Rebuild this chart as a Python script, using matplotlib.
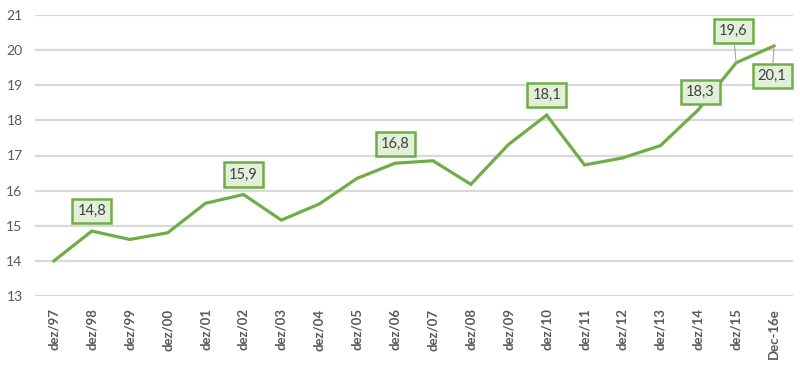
import matplotlib
matplotlib.use("Agg")
import matplotlib.pyplot as plt

plt.rcParams['font.family'] = ['Lato', 'DejaVu Sans']

labels = ["dez/97", "dez/98", "dez/99", "dez/00", "dez/01", "dez/02", "dez/03",
          "dez/04", "dez/05", "dez/06", "dez/07", "dez/08", "dez/09", "dez/10",
          "dez/11", "dez/12", "dez/13", "dez/14", "dez/15", "Dec-16e"]
values = [14.0, 14.85, 14.61, 14.8, 15.64, 15.89, 15.16, 15.62, 16.35, 16.78,
          16.85, 16.18, 17.32, 18.15, 16.73, 16.93, 17.28, 18.3, 19.64, 20.12]

# which points get a boxed label, text, and offset (pixels) of the box
marked = [1, 5, 9, 13, 17, 18, 19]
marked_text = ["14,8", "15,9", "16,8", "18,1", "18,3", "19,6", "20,1"]
offsets = [(0, 20), (0, 20), (0, 19), (0, 20), (2, 18), (-3, 32), (-2, -30)]

green = "#70AD47"

fig = plt.figure(figsize=(8, 3.73), dpi=100)
ax = fig.add_axes([35/800, 1 - 296/373, 758/800, 281/373])

x = list(range(len(values)))
ax.plot(x, values, color=green, lw=2.3, solid_joinstyle='miter', zorder=3)

ax.set_ylim(13, 21)
ax.set_xlim(-0.5, len(values) - 0.5)
ax.set_yticks(range(13, 22))
ax.yaxis.grid(True, color="#D9D9D9", lw=1.6)
ax.set_axisbelow(True)
for s in ax.spines.values():
    s.set_visible(False)
ax.tick_params(length=0)
ax.tick_params(axis='y', labelsize=10, labelcolor="#595959", pad=9)
ax.set_xticks(x)
ax.set_xticklabels(labels, rotation=90, fontsize=9.5, fontweight='bold', color="#595959")
ax.tick_params(axis='x', pad=9)

for i, t, off in zip(marked, marked_text, offsets):
    leader = abs(off[1]) > 25
    ax.annotate(t, (i, values[i]), xytext=off, textcoords='offset pixels',
                ha='center', va='center', fontsize=10.5, color="#404040", zorder=5,
                bbox=dict(boxstyle='square,pad=0.35', fc="#E2F0D9", ec=green, lw=1.8),
                arrowprops=dict(arrowstyle='-', color="#A6A6A6", lw=0.8, shrinkA=0, shrinkB=0) if leader else None)

fig.savefig("out.png", dpi=100)
